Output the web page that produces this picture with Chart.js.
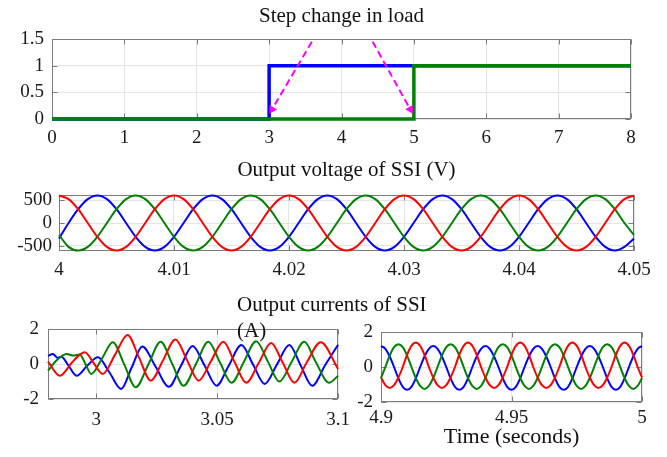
<!DOCTYPE html>
<html>
<head>
<meta charset="utf-8">
<script src="https://cdn.jsdelivr.net/npm/chart.js@4.4.1/dist/chart.umd.min.js"></script>
<style>
  body { margin: 0; background: #fff; }
  #wrap { position: relative; width: 667px; height: 457px; overflow: hidden; background: #fff; }
  canvas { position: absolute; }
</style>
</head>
<body>
<div id="wrap">
  <canvas id="loadChart" width="667" height="150" style="left:0;top:0"></canvas>
  <canvas id="voltChart" width="667" height="135" style="left:0;top:150px"></canvas>
  <canvas id="curLeft" width="360" height="172" style="left:0;top:285px"></canvas>
  <canvas id="curRight" width="667" height="172" style="left:0;top:285px"></canvas>
</div>
<script>
// ===== データ =====

// 負荷のステップ変化（上段）
const loadBlueX = [0, 3, 3, 8];
const loadBlueY = [0, 0, 1, 1];
const loadGreenX = [0, 5, 5, 8];
const loadGreenY = [0, 0, 1, 1];
// 矢印（破線）の始点と終点
const arrow1X = [3.59, 3.04];
const arrow1Y = [1.45, 0.18];
const arrow2X = [4.43, 4.95];
const arrow2Y = [1.45, 0.18];
const loadXTicks = [0, 1, 2, 3, 4, 5, 6, 7, 8];
const loadYTicks = [0, 0.5, 1, 1.5];

// SSIの出力電圧（中段）: 4.0秒から 0.01/12 秒刻みで読み取った値
const voltStart = 4;
const voltStep = 0.01 / 12;
const voltRed = [
  600, 520, 300, 0, -300, -520, -600, -520, -300, 0, 300, 520,
  600, 520, 300, 0, -300, -520, -600, -520, -300, 0, 300, 520,
  600, 520, 300, 0, -300, -520, -600, -520, -300, 0, 300, 520,
  600, 520, 300, 0, -300, -520, -600, -520, -300, 0, 300, 520,
  600, 520, 300, 0, -300, -520, -600, -520, -300, 0, 300, 520,
  600
];
const voltBlue = [
  -340, 0, 300, 520, 600, 520, 300, 0, -300, -520, -600, -520,
  -300, 0, 300, 520, 600, 520, 300, 0, -300, -520, -600, -520,
  -300, 0, 300, 520, 600, 520, 300, 0, -300, -520, -600, -520,
  -300, 0, 300, 520, 600, 520, 300, 0, -300, -520, -600, -520,
  -300, 0, 300, 520, 600, 520, 300, 0, -300, -520, -600, -520,
  -340
];
const voltGreen = [
  -260, -520, -600, -520, -300, 0, 300, 520, 600, 520, 300, 0,
  -300, -520, -600, -520, -300, 0, 300, 520, 600, 520, 300, 0,
  -300, -520, -600, -520, -300, 0, 300, 520, 600, 520, 300, 0,
  -300, -520, -600, -520, -300, 0, 300, 520, 600, 520, 300, 0,
  -300, -520, -600, -520, -300, 0, 300, 520, 600, 520, 300, 0,
  -260
];
const voltXTicks = [4, 4.01, 4.02, 4.03, 4.04, 4.05];
const voltYTicks = [-500, 0, 500];

// SSIの出力電流（下段左）: 3秒付近の過渡応答
const curLeftBlueT = [2.98, 2.982, 2.984, 2.9855, 2.9885, 2.9918, 2.9962, 3.0006, 3.0055, 3.0102, 3.0146, 3.019, 3.0245, 3.030, 3.035, 3.0398, 3.0448, 3.0497, 3.0548, 3.060, 3.0648, 3.0696, 3.0747, 3.0798, 3.0845, 3.0893, 3.0946, 3.1];
const curLeftBlueI = [0.47, 0.57, 0.35, 0.42, -0.1, -0.67, -0.1, 0.38, -0.5, -1.43, -0.2, 1.0, -0.15, -1.3, -0.1, 1.03, -0.1, -1.24, -0.08, 1.09, -0.03, -1.14, -0.03, 1.09, -0.08, -1.24, -0.07, 1.1];
const curLeftGreenT = [2.98, 2.9835, 2.9877, 2.9905, 2.9931, 2.9955, 2.9979, 3.0024, 3.0068, 3.0116, 3.0163, 3.0215, 3.0266, 3.0314, 3.0361, 3.0412, 3.0463, 3.0511, 3.0559, 3.061, 3.0661, 3.0709, 3.0757, 3.0808, 3.086, 3.0908, 3.0962, 3.1];
const curLeftGreenI = [-0.38, 0.2, 0.57, 0.48, 0.55, 0.0, -0.57, 0.33, 1.24, -0.05, -1.33, -0.03, 1.27, 0.0, -1.24, 0.0, 1.27, 0.1, -1.07, 0.12, 1.3, 0.15, -1.0, 0.13, 1.27, 0.1, -1.07, -0.67];
const curLeftRedT = [2.98, 2.9849, 2.990, 2.9925, 2.9952, 2.9989, 3.0026, 3.0078, 3.0129, 3.0177, 3.0225, 3.0276, 3.0327, 3.0375, 3.0423, 3.0474, 3.0525, 3.0572, 3.062, 3.0672, 3.0723, 3.0771, 3.0819, 3.087, 3.0928, 3.1];
const curLeftRedI = [0.13, -0.67, 0.1, 0.45, 0.67, 0.05, -0.57, 0.55, 1.66, 0.35, -0.95, 0.22, 1.4, 0.22, -0.95, 0.16, 1.27, 0.1, -1.07, 0.07, 1.2, 0.07, -1.07, 0.09, 1.24, -0.29];
const curLeftXTicks = [3, 3.05, 3.1];

// SSIの出力電流（下段右）: 4.9秒から 0.02/12 秒刻みで読み取った値
const curRightStart = 4.9;
const curRightStep = 0.02 / 12;
const curRightBlue = [
  1.2, 1.04, 0.6, 0, -0.65, -1.13, -1.3, -1.13, -0.65, 0, 0.6, 1.04,
  1.2, 1.04, 0.6, 0, -0.65, -1.13, -1.3, -1.13, -0.65, 0, 0.6, 1.04,
  1.2, 1.04, 0.6, 0, -0.65, -1.13, -1.3, -1.13, -0.65, 0, 0.6, 1.04,
  1.2, 1.04, 0.6, 0, -0.65, -1.13, -1.3, -1.13, -0.65, 0, 0.6, 1.04,
  1.2, 1.04, 0.6, 0, -0.65, -1.13, -1.3, -1.13, -0.65, 0, 0.6, 1.04,
  1.2
];
const curRightGreen = [
  -0.63, 0, 0.65, 1.13, 1.3, 1.13, 0.65, 0, -0.63, -1.08, -1.25, -1.08,
  -0.63, 0, 0.65, 1.13, 1.3, 1.13, 0.65, 0, -0.63, -1.08, -1.25, -1.08,
  -0.63, 0, 0.65, 1.13, 1.3, 1.13, 0.65, 0, -0.63, -1.08, -1.25, -1.08,
  -0.63, 0, 0.65, 1.13, 1.3, 1.13, 0.65, 0, -0.63, -1.08, -1.25, -1.08,
  -0.63, 0, 0.65, 1.13, 1.3, 1.13, 0.65, 0, -0.63, -1.08, -1.25, -1.08,
  -0.63
];
const curRightRed = [
  -0.6, -1.04, -1.2, -1.04, -0.6, 0, 0.7, 1.21, 1.4, 1.21, 0.7, 0,
  -0.6, -1.04, -1.2, -1.04, -0.6, 0, 0.7, 1.21, 1.4, 1.21, 0.7, 0,
  -0.6, -1.04, -1.2, -1.04, -0.6, 0, 0.7, 1.21, 1.4, 1.21, 0.7, 0,
  -0.6, -1.04, -1.2, -1.04, -0.6, 0, 0.7, 1.21, 1.4, 1.21, 0.7, 0,
  -0.6, -1.04, -1.2, -1.04, -0.6, 0, 0.7, 1.21, 1.4, 1.21, 0.7, 0,
  -0.6
];
const curRightXTicks = [4.9, 4.95, 5];
const curYTicks = [-2, 0, 2];

// ===== 共通設定 =====
Chart.defaults.font.family = "'Liberation Serif', 'Times New Roman', serif";
Chart.defaults.font.size = 19;
Chart.defaults.color = '#1a1a1a';

const RED = '#ff0000';
const GREEN = '#008000';
const BLUE = '#0000ff';
const MAGENTA = '#ff00ff';

// x と y の配列から点の配列を作る
function toPoints(xs, ys) {
  return xs.map((x, i) => ({ x: x, y: ys[i] }));
}

// 等間隔サンプルの値から点の配列を作る
function sampled(start, step, ys) {
  return ys.map((y, i) => ({ x: start + i * step, y: y }));
}

// 波形のデータセット
function wave(points, color) {
  return {
    data: points,
    borderColor: color,
    borderWidth: 2,
    pointRadius: 0,
    cubicInterpolationMode: 'monotone',
    clip: 2
  };
}

// 軸の設定（目盛り位置を固定し、軸の幅/高さも固定）
function axis(min, max, ticks, pad, fitSize, horizontal) {
  return {
    type: 'linear',
    min: min,
    max: max,
    afterBuildTicks: (scale) => {
      scale.ticks = ticks.map(v => ({ value: v }));
    },
    afterFit: (scale) => {
      if (horizontal) {
        scale.height = fitSize;
      } else {
        scale.width = fitSize;
      }
    },
    ticks: {
      padding: pad,
      maxRotation: 0,
      autoSkip: false,
      format: { minimumFractionDigits: 0, maximumFractionDigits: 3 }
    },
    grid: { color: '#e4e4e4', drawTicks: false },
    border: { display: false }
  };
}

// MATLAB風の枠と内向きの目盛り線を描くプラグイン
const axesBoxPlugin = {
  id: 'axesBox',
  beforeDatasetsDraw(chart) {
    const ctx = chart.ctx;
    const a = chart.chartArea;
    const xs = chart.scales.x;
    const ys = chart.scales.y;
    const l = Math.round(a.left) + 0.5;
    const r = Math.round(a.right) - 0.5;
    const t = Math.round(a.top) + 0.5;
    const b = Math.round(a.bottom) - 0.5;
    ctx.save();
    ctx.strokeStyle = '#7c7c7c';
    ctx.lineWidth = 1;
    ctx.beginPath();
    xs.ticks.forEach(tk => {
      const px = Math.round(xs.getPixelForValue(tk.value)) + 0.5;
      ctx.moveTo(px, b); ctx.lineTo(px, b - 5);
      ctx.moveTo(px, t); ctx.lineTo(px, t + 5);
    });
    ys.ticks.forEach(tk => {
      const py = Math.round(ys.getPixelForValue(tk.value)) + 0.5;
      ctx.moveTo(l, py); ctx.lineTo(l + 5, py);
      ctx.moveTo(r, py); ctx.lineTo(r - 5, py);
    });
    ctx.stroke();
    ctx.strokeRect(l, t, r - l, b - t);
    ctx.restore();
  }
};

// 全チャート共通のオプション
function baseOptions(padding, scales, title) {
  return {
    responsive: false,
    animation: false,
    events: [],
    layout: { padding: padding },
    scales: scales,
    plugins: {
      legend: { display: false },
      tooltip: { enabled: false },
      title: title
    }
  };
}

// ===== 上段: 負荷のステップ変化 =====
new Chart(document.getElementById('loadChart'), {
  type: 'line',
  data: {
    datasets: [
      {
        data: toPoints(arrow1X, arrow1Y),
        borderColor: MAGENTA, backgroundColor: MAGENTA,
        borderWidth: 2, borderDash: [7, 4],
        pointStyle: 'triangle', pointRadius: [0, 5], pointRotation: [0, 211], pointBorderWidth: 0
      },
      {
        data: toPoints(arrow2X, arrow2Y),
        borderColor: MAGENTA, backgroundColor: MAGENTA,
        borderWidth: 2, borderDash: [7, 4],
        pointStyle: 'triangle', pointRadius: [0, 5], pointRotation: [0, 151], pointBorderWidth: 0
      },
      { data: toPoints(loadGreenX, loadGreenY), borderColor: GREEN, borderWidth: 3.5, pointRadius: 0, clip: 6 },
      { data: toPoints(loadBlueX, loadBlueY), borderColor: BLUE, borderWidth: 3.5, pointRadius: 0, clip: 6 }
    ]
  },
  options: baseOptions(
    { left: 0, right: 36, top: 0, bottom: 0 },
    {
      x: axis(0, 8, loadXTicks, 8, 31, true),
      y: axis(0, 1.5, loadYTicks, 8, 52, false)
    },
    {
      display: true, text: 'Step change in load', color: '#111', fullSize: false,
      font: { size: 21, weight: 'normal' }, padding: { top: 3.4, bottom: 10.4 }
    }
  ),
  plugins: [axesBoxPlugin]
});

// ===== 中段: 出力電圧 =====
new Chart(document.getElementById('voltChart'), {
  type: 'line',
  data: {
    datasets: [
      wave(sampled(voltStart, voltStep, voltRed), RED),
      wave(sampled(voltStart, voltStep, voltGreen), GREEN),
      wave(sampled(voltStart, voltStep, voltBlue), BLUE)
    ]
  },
  options: baseOptions(
    { left: 0, right: 33, top: 0, bottom: 0 },
    {
      x: axis(4, 4.05, voltXTicks, 8, 34, true),
      y: axis(-610, 610, voltYTicks, 7, 59, false)
    },
    {
      display: true, text: 'Output voltage of SSI (V)', color: '#111', fullSize: false,
      font: { size: 21, weight: 'normal' }, padding: { top: 7.4, bottom: 12.4 }
    }
  ),
  plugins: [axesBoxPlugin]
});

// ===== 下段左: 出力電流（3秒付近） =====
new Chart(document.getElementById('curLeft'), {
  type: 'line',
  data: {
    datasets: [
      wave(toPoints(curLeftRedT, curLeftRedI), RED),
      wave(toPoints(curLeftGreenT, curLeftGreenI), GREEN),
      wave(toPoints(curLeftBlueT, curLeftBlueI), BLUE)
    ]
  },
  options: baseOptions(
    { left: 0, right: 19, top: 44, bottom: 0 },
    {
      x: axis(2.98, 3.1, curLeftXTicks, 10, 58, true),
      y: axis(-2, 2, curYTicks, 9, 48, false)
    },
    { display: false }
  ),
  plugins: [axesBoxPlugin]
});

// ===== 下段右: 出力電流（5秒手前）+ 下段のタイトル =====
const rightX = axis(4.9, 5, curRightXTicks, 5, 55, true);
rightX.title = {
  display: true, text: 'Time (seconds)', color: '#111',
  font: { size: 22 }, padding: { top: 0, bottom: 7 }
};
new Chart(document.getElementById('curRight'), {
  type: 'line',
  data: {
    datasets: [
      wave(sampled(curRightStart, curRightStep, curRightRed), RED),
      wave(sampled(curRightStart, curRightStep, curRightGreen), GREEN),
      wave(sampled(curRightStart, curRightStep, curRightBlue), BLUE)
    ]
  },
  options: baseOptions(
    { left: 237, right: 25, top: 0, bottom: 0 },
    {
      x: rightX,
      y: axis(-2, 2, curYTicks, 8, 144, false)
    },
    {
      display: true, text: ['Output currents of SSI', '(A)'], color: '#111',
      align: 'start', fullSize: true,
      font: { size: 21, weight: 'normal', lineHeight: 26 / 21 }, padding: { top: 7.4, bottom: -12.4 }
    }
  ),
  plugins: [axesBoxPlugin]
});
</script>
</body>
</html>
